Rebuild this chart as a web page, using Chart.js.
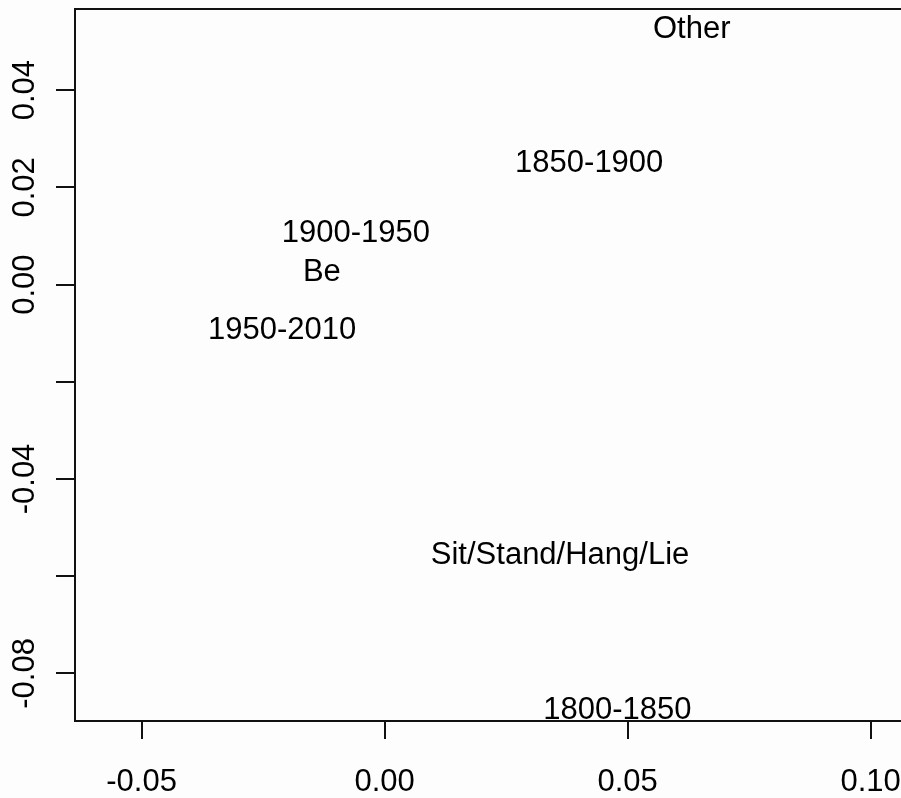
<!DOCTYPE html>
<html>
<head>
<meta charset="utf-8">
<script src="https://cdn.jsdelivr.net/npm/chart.js@4"></script>
<style>
  body { margin: 0; background: #fdfdfd; overflow: hidden; }
  #wrap { width: 901px; height: 798px; overflow: hidden; }
</style>
</head>
<body>
<div id="wrap"><canvas id="mdsChart" width="910" height="798"></canvas></div>
<script>
// labels placed in the 2D space (text only, like R's text())
const names = ["Other", "1850-1900", "1900-1950", "Be", "1950-2010", "Sit/Stand/Hang/Lie", "1800-1850"];
const dim1 = [0.0632, 0.0421, -0.0059, -0.0129, -0.0211, 0.0361, 0.0479];
const dim2 = [0.0530, 0.0254, 0.0110, 0.0030, -0.0090, -0.0553, -0.0872];

// axis ticks; R drops the y labels that would overlap
const xTicks = ["-0.05", "0.00", "0.05", "0.10"];
const yTicks = ["-0.08", "-0.06", "-0.04", "-0.02", "0.00", "0.02", "0.04"];
const yHidden = ["-0.06", "-0.02"];

const FONT = '"Liberation Sans", Arial, sans-serif';
const FSIZE = 31;

const fmt = v => {
  const s = Number(v).toFixed(2);
  return s === "-0.00" ? "0.00" : s;
};

// box around the plot region
const boxPlugin = {
  id: "box",
  afterDraw(chart) {
    const a = chart.chartArea;
    const ctx = chart.ctx;
    ctx.save();
    ctx.strokeStyle = "#111";
    ctx.lineWidth = 2;
    ctx.strokeRect(a.left, a.top, a.right - a.left, a.bottom - a.top);
    ctx.restore();
  }
};

// rotated y tick labels
const yLabelPlugin = {
  id: "yLabels",
  afterDraw(chart) {
    const scale = chart.scales.y;
    const ctx = chart.ctx;
    ctx.save();
    ctx.fillStyle = "#000";
    ctx.font = FSIZE + "px " + FONT;
    ctx.textAlign = "center";
    ctx.textBaseline = "alphabetic";
    scale.ticks.forEach(t => {
      const lab = fmt(t.value);
      if (!yTicks.includes(lab) || yHidden.includes(lab)) return;
      const py = scale.getPixelForValue(t.value);
      ctx.save();
      ctx.translate(22.5, py);
      ctx.rotate(-Math.PI / 2);
      ctx.fillText(lab, 0, FSIZE * 0.358);
      ctx.restore();
    });
    ctx.restore();
  }
};

// draw each point as its text label
const textPlugin = {
  id: "pointText",
  afterDatasetsDraw(chart) {
    const meta = chart.getDatasetMeta(0);
    const ctx = chart.ctx;
    ctx.save();
    ctx.fillStyle = "#000";
    ctx.font = FSIZE + "px " + FONT;
    ctx.textAlign = "center";
    ctx.textBaseline = "alphabetic";
    meta.data.forEach((pt, i) => {
      ctx.fillText(names[i], pt.x, pt.y + FSIZE * 0.358);
    });
    ctx.restore();
  }
};

const ctx = document.getElementById("mdsChart").getContext("2d");
const mdsChart = new Chart(ctx, {
  type: "scatter",
  data: {
    datasets: [{
      data: names.map((n, i) => ({ x: dim1[i], y: dim2[i] })),
      pointRadius: 0,
      pointHoverRadius: 0
    }]
  },
  options: {
    responsive: false,
    animation: false,
    events: [],
    layout: { padding: { top: 9, right: 0, left: 0, bottom: 0 }, autoPadding: false },
    plugins: {
      legend: { display: false },
      tooltip: { enabled: false }
    },
    scales: {
      x: {
        type: "linear",
        min: -0.0637,
        max: 0.1081,
        afterFit: s => {
          s.height = 77;
          s.paddingLeft = 0;
          s.paddingRight = 0;
        },
        border: { display: false },
        grid: { drawOnChartArea: false, drawTicks: true, tickLength: 18, lineWidth: 2, color: "#111" },
        ticks: {
          stepSize: 0.05,
          includeBounds: false,
          maxRotation: 0,
          autoSkip: false,
          padding: 25,
          color: "#000",
          font: { family: FONT, size: FSIZE },
          callback: v => (xTicks.includes(fmt(v)) ? fmt(v) : "")
        }
      },
      y: {
        type: "linear",
        min: -0.0898,
        max: 0.0567,
        afterFit: s => {
          s.width = 75;
          s.paddingTop = 0;
          s.paddingBottom = 0;
        },
        border: { display: false },
        grid: { drawOnChartArea: false, drawTicks: true, tickLength: 19, lineWidth: 2, color: "#111" },
        ticks: {
          stepSize: 0.02,
          includeBounds: false,
          display: false
        }
      }
    }
  },
  plugins: [boxPlugin, yLabelPlugin, textPlugin]
});
</script>
</body>
</html>
